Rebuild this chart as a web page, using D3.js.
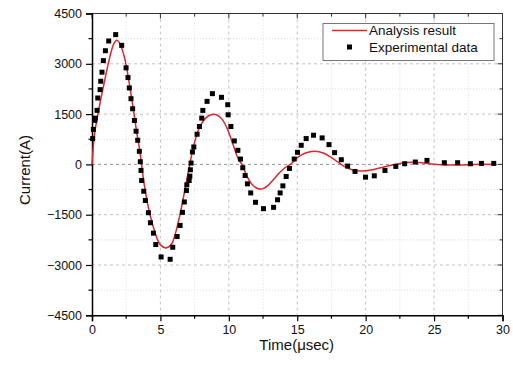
<!DOCTYPE html>
<meta charset="utf-8" />
<script src="https://d3js.org/d3.v7.min.js"></script>
<style>
	body { margin: 0; background: #fff; }
	svg { font-family: "Liberation Sans", Arial, sans-serif; }
</style>
<div id="chart"></div>
<script>
	// Analysis result (red line)
	const analysisTime = [0, 0.1, 0.2, 0.5, 0.9, 1.3, 1.6, 1.8, 2.0, 2.3, 2.5, 2.75, 3.0, 3.25, 3.5, 3.62, 3.8, 4.1, 4.4, 4.7, 5.0, 5.4, 5.8, 6.1, 6.4, 6.7, 7.0, 7.15, 7.4, 7.8, 8.3, 8.7, 9.1, 9.5, 9.9, 10.3, 10.7, 10.95, 11.3, 11.7, 12.1, 12.45, 12.8, 13.2, 13.7, 14.1, 14.5, 15.0, 15.6, 16.3, 16.9, 17.5, 18.0, 18.4, 19.0, 19.7, 20.4, 21.1, 21.8, 22.4, 23.0, 23.6, 24.2, 24.8, 25.5, 26.2, 27.0, 28.0, 29.4];
	const analysisCurrent = [0, 550, 950, 1650, 2450, 3200, 3600, 3700, 3630, 3300, 2950, 2350, 1700, 1000, 380, 0, -550, -1250, -1750, -2150, -2400, -2490, -2380, -2050, -1550, -950, -300, 0, 500, 1050, 1380, 1480, 1480, 1350, 1050, 600, 150, 0, -330, -600, -720, -730, -650, -480, -250, -100, 0, 200, 340, 390, 340, 200, 60, -50, -160, -200, -170, -100, -30, 20, 55, 65, 45, 15, -10, -20, -15, 0, 0];

	// Experimental data (black squares)
	const expTime = [0.05, 0.1, 0.2, 0.24, 0.37, 0.42, 0.59, 0.64, 0.73, 0.83, 0.98, 1.22, 1.73, 2.17, 2.49, 2.63, 2.73, 2.85, 2.97, 3.1, 3.22, 3.34, 3.46, 3.53, 3.58, 3.63, 3.78, 3.9, 4.12, 4.27, 4.49, 4.66, 5.05, 5.71, 5.9, 6.22, 6.44, 6.61, 6.75, 6.9, 6.93, 7.1, 7.15, 7.19, 7.24, 7.34, 7.44, 7.68, 7.85, 8.02, 8.1, 8.41, 8.8, 9.46, 9.92, 9.95, 10.15, 10.4, 10.66, 10.85, 11.02, 11.19, 11.36, 11.6, 11.95, 12.53, 13.27, 13.56, 13.75, 13.95, 14.19, 14.43, 14.78, 15.02, 15.29, 15.65, 16.19, 16.82, 17.32, 17.73, 18.22, 18.68, 19.22, 19.99, 20.63, 21.41, 22.2, 22.85, 23.63, 24.48, 25.75, 26.72, 27.65, 28.46, 29.36];
	const expCurrent = [770, 1045, 1313, 1380, 1612, 1980, 2230, 2480, 2750, 3095, 3390, 3680, 3870, 3550, 2880, 2590, 2280, 1960, 1660, 1310, 990, 720, 390, 80, -180, -480, -800, -1075, -1440, -1740, -2050, -2390, -2760, -2830, -2470, -2150, -1820, -1430, -1120, -780, -610, -480, -350, -160, 40, 370, 520, 900, 1130, 1380, 1610, 1880, 2110, 2000, 1780, 1480, 1130, 700, 420, 160, -100, -330, -580, -850, -1130, -1320, -1280, -1055, -850, -640, -360, -120, 160, 360, 570, 770, 870, 790, 590, 350, 140, -50, -210, -380, -340, -180, -60, 20, 70, 120, 50, 50, 20, 30, 30];

	const xTicks = [0, 5, 10, 15, 20, 25, 30];
	const yTicks = [-4500, -3000, -1500, 0, 1500, 3000, 4500];
	const legendLabels = ["Analysis result", "Experimental data"];

	const width = 513, height = 365;
	const pLeft = 92, pRight = 502.5, pTop = 13.5, pBottom = 315.3;

	const svg = d3.select("#chart").append("svg")
		.attr("width", width)
		.attr("height", height);

	const x = d3.scaleLinear().domain([0, 30]).range([pLeft, pRight]);
	const y = d3.scaleLinear().domain([-4500, 4500]).range([pBottom, pTop]);

	const xMinor = d3.range(0, 30.01, 2.5);
	const yMinor = d3.range(-4500, 4500.1, 750);

	// grid lines
	const grid = svg.append("g");
	grid.selectAll(".vg").data(xMinor.filter(d => d > 0 && d < 30)).enter().append("line")
		.attr("x1", d => x(d)).attr("x2", d => x(d))
		.attr("y1", pTop).attr("y2", pBottom)
		.attr("stroke", d => d % 5 === 0 ? "#b4b4b4" : "#d4d4d4")
		.attr("stroke-dasharray", d => d % 5 === 0 ? "3,3" : "1,2")
		.attr("stroke-width", 0.8);
	grid.selectAll(".hg").data(yMinor.filter(d => d > -4500 && d < 4500)).enter().append("line")
		.attr("x1", pLeft).attr("x2", pRight)
		.attr("y1", d => y(d)).attr("y2", d => y(d))
		.attr("stroke", d => d === 0 ? "#777" : (d % 1500 === 0 ? "#b4b4b4" : "#d4d4d4"))
		.attr("stroke-dasharray", d => d % 1500 === 0 ? "3,3" : "1,2")
		.attr("stroke-width", 0.8);

	// frame top and right
	svg.append("line").attr("x1", pLeft).attr("x2", pRight).attr("y1", pTop).attr("y2", pTop)
		.attr("stroke", "#333").attr("stroke-width", 1);
	svg.append("line").attr("x1", pRight).attr("x2", pRight).attr("y1", pTop).attr("y2", pBottom)
		.attr("stroke", "#333").attr("stroke-width", 1);

	// inward ticks on top and right
	svg.selectAll(".tt").data(xMinor).enter().append("line")
		.attr("x1", d => x(d)).attr("x2", d => x(d))
		.attr("y1", pTop).attr("y2", d => pTop + (d % 5 === 0 ? 5 : 3))
		.attr("stroke", "#333");
	svg.selectAll(".rt").data(yMinor).enter().append("line")
		.attr("x1", pRight).attr("x2", d => pRight - (d % 1500 === 0 ? 5 : 3))
		.attr("y1", d => y(d)).attr("y2", d => y(d))
		.attr("stroke", "#333");

	// axes
	const xAxis = d3.axisBottom(x).tickValues(xTicks).tickSize(6).tickPadding(4).tickFormat(d3.format("d"));
	const yAxis = d3.axisLeft(y).tickValues(yTicks).tickSize(6).tickPadding(4).tickFormat(d3.format("d"));

	const gx = svg.append("g").attr("transform", "translate(0," + pBottom + ")").call(xAxis);
	const gy = svg.append("g").attr("transform", "translate(" + pLeft + ",0)").call(yAxis);
	[gx, gy].forEach(g => {
		g.select(".domain").attr("stroke", "#000").attr("stroke-width", 1.5);
		g.selectAll(".tick line").attr("stroke", "#000").attr("stroke-width", 1.2);
		g.selectAll("text").attr("font-size", "12.5px").attr("fill", "#111")
			.attr("font-family", "Liberation Sans, Arial, sans-serif");
	});

	// minor outward ticks
	svg.selectAll(".bm").data(xMinor.filter(d => d % 5 !== 0)).enter().append("line")
		.attr("x1", d => x(d)).attr("x2", d => x(d))
		.attr("y1", pBottom).attr("y2", pBottom + 3.5)
		.attr("stroke", "#000").attr("stroke-width", 1.2);
	svg.selectAll(".lm").data(yMinor.filter(d => d % 1500 !== 0)).enter().append("line")
		.attr("x1", pLeft).attr("x2", pLeft - 3.5)
		.attr("y1", d => y(d)).attr("y2", d => y(d))
		.attr("stroke", "#000").attr("stroke-width", 1.2);

	// axis titles
	svg.append("text")
		.attr("x", (pLeft + pRight) / 2 - 0.5).attr("y", 350)
		.attr("text-anchor", "middle").attr("font-size", "15px").attr("fill", "#111")
		.text("Time(μsec)");
	svg.append("text")
		.attr("transform", "translate(30,170) rotate(-90)")
		.attr("text-anchor", "middle").attr("font-size", "15px").attr("fill", "#111")
		.text("Current(A)");

	// analysis line
	const lineData = analysisTime.map((t, i) => [t, analysisCurrent[i]]);
	svg.append("path")
		.datum(lineData)
		.attr("fill", "none")
		.attr("stroke", "#e0262b")
		.attr("stroke-width", 1.5)
		.attr("d", d3.line().x(d => x(d[0])).y(d => y(d[1])).curve(d3.curveCatmullRom));

	// experimental squares
	const expData = expTime.map((t, i) => [t, expCurrent[i]]);
	svg.selectAll(".pt").data(expData).enter().append("rect")
		.attr("x", d => x(d[0]) - 2.5)
		.attr("y", d => y(d[1]) - 2.5)
		.attr("width", 5).attr("height", 5)
		.attr("fill", "#000");

	// legend
	const lg = svg.append("g");
	lg.append("rect")
		.attr("x", 323).attr("y", 23.5).attr("width", 171).attr("height", 37)
		.attr("fill", "#fff").attr("stroke", "#777").attr("stroke-width", 1);
	lg.append("line")
		.attr("x1", 332).attr("x2", 367).attr("y1", 30.5).attr("y2", 30.5)
		.attr("stroke", "#e0262b").attr("stroke-width", 1.5);
	lg.append("rect")
		.attr("x", 347).attr("y", 44.5).attr("width", 5).attr("height", 5)
		.attr("fill", "#000");
	lg.selectAll(".lt").data(legendLabels).enter().append("text")
		.attr("x", 369).attr("y", (d, i) => 35 + i * 17)
		.attr("font-size", "13.5px").attr("fill", "#111")
		.text(d => d);
</script>
